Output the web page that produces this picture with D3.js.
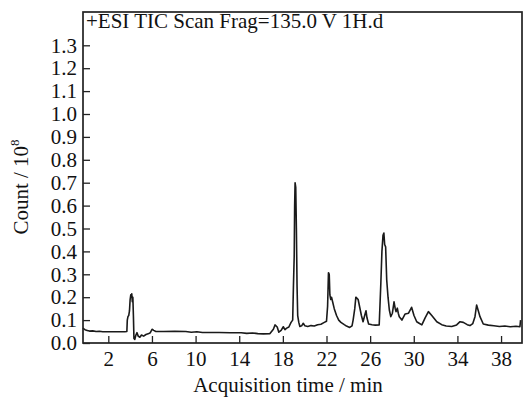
<!DOCTYPE html>
<html>
<head>
<meta charset="utf-8">
<script src="https://cdn.jsdelivr.net/npm/d3@7"></script>
<style>
  body { margin: 0; background: #fff; }
</style>
</head>
<body>
<script>
// retention time (min) and TIC count (x10^8)
const times = [
  -0.34, -0.14, 0.065, 0.27, 0.57, 0.88, 1.18, 1.49, 1.99, 2.50, 3.01, 3.52,
  3.70, 3.74, 3.80, 3.87, 3.94, 4.00, 4.06, 4.11, 4.15, 4.20, 4.25, 4.30, 4.35, 4.43,
  4.53, 4.63, 4.74, 4.89, 5.04, 5.24, 5.45, 5.65, 5.85, 6.01, 6.16, 6.36,
  7.07, 8.09, 9.10, 9.61, 10.12, 10.63, 11.14, 12.15, 13.17, 14.18, 14.69, 15.20, 15.70, 16.21, 16.82,
  17.13, 17.28, 17.48, 17.63, 17.84, 18.04, 18.19, 18.35, 18.55, 18.75, 18.90,
  18.97, 19.04, 19.08, 19.12, 19.18, 19.24, 19.30, 19.36, 19.46, 19.56, 19.72, 19.87, 20.02,
  20.28, 20.58, 20.88, 21.19, 21.49, 21.80, 22.00, 22.10, 22.18, 22.25, 22.31, 22.39, 22.46, 22.56,
  22.71, 22.92, 23.12, 23.32, 23.63, 23.83, 24.13, 24.34, 24.44, 24.59, 24.69, 24.80, 24.90,
  25.05, 25.20, 25.35, 25.50, 25.62, 25.71, 25.86, 26.17, 26.47, 26.83,
  26.98, 27.08, 27.18, 27.26, 27.33, 27.42, 27.52, 27.64, 27.76, 27.89, 28.04, 28.19,
  28.30, 28.37, 28.49, 28.58, 28.67, 28.91, 29.21, 29.52, 29.80, 30.02, 30.27,
  30.53, 30.74, 31.04, 31.34, 31.65, 32.11, 32.56, 32.97, 33.48, 33.93, 34.24, 34.54,
  34.90, 35.15, 35.41, 35.61, 35.76, 35.92, 36.07, 36.37, 36.83, 37.34, 37.85, 38.35,
  38.86, 39.37, 39.73, 39.79
];
const counts = [
  0.065, 0.058, 0.055, 0.052, 0.053, 0.05, 0.051, 0.049, 0.049, 0.049, 0.049, 0.049,
  0.05, 0.10, 0.115, 0.12, 0.14, 0.19, 0.21, 0.20, 0.215, 0.18, 0.20, 0.12, 0.02, 0.016,
  0.035, 0.045, 0.03, 0.025, 0.035, 0.03, 0.037, 0.04, 0.045, 0.06, 0.055, 0.05,
  0.05, 0.051, 0.05, 0.047, 0.049, 0.046, 0.046, 0.046, 0.045, 0.045, 0.042, 0.044, 0.041, 0.04, 0.041,
  0.06, 0.079, 0.07, 0.047, 0.055, 0.071, 0.058, 0.065, 0.07, 0.09, 0.10,
  0.25, 0.38, 0.6, 0.70, 0.68, 0.5, 0.25, 0.12, 0.09, 0.072, 0.075, 0.086, 0.075,
  0.072, 0.076, 0.074, 0.08, 0.082, 0.09, 0.095, 0.16, 0.307, 0.30, 0.21, 0.19, 0.20, 0.18,
  0.15, 0.12, 0.10, 0.09, 0.08, 0.074, 0.068, 0.075, 0.10, 0.15, 0.20, 0.195, 0.19,
  0.155, 0.12, 0.093, 0.12, 0.141, 0.11, 0.083, 0.08, 0.078, 0.079,
  0.26, 0.40, 0.47, 0.48, 0.43, 0.42, 0.275, 0.2, 0.144, 0.115, 0.13, 0.18,
  0.15, 0.137, 0.152, 0.13, 0.115, 0.10, 0.127, 0.13, 0.156, 0.12, 0.093,
  0.085, 0.079, 0.11, 0.137, 0.12, 0.093, 0.08, 0.074, 0.072, 0.079, 0.093, 0.09,
  0.08, 0.076, 0.085, 0.115, 0.166, 0.14, 0.115, 0.083, 0.078, 0.075, 0.072, 0.074,
  0.071, 0.073, 0.071, 0.10
];
const xTicks = [2, 6, 10, 14, 18, 22, 26, 30, 34, 38];
const yTicks = [0, 0.1, 0.2, 0.3, 0.4, 0.5, 0.6, 0.7, 0.8, 0.9, 1.0, 1.1, 1.2, 1.3];
const title = "+ESI TIC Scan Frag=135.0 V 1H.d";

const serif = "'Liberation Serif', Tinos, 'Times New Roman', Times, serif";

const width = 523, height = 400;
const margin = { top: 12, right: 1, bottom: 57, left: 83 };

const svg = d3.select("body").append("svg")
    .attr("width", width)
    .attr("height", height);

const x = d3.scaleLinear()
    .domain([-0.32, 39.92])
    .range([margin.left, width - margin.right]);

const y = d3.scaleLinear()
    .domain([0, 1.3])
    .range([height - margin.bottom, height - margin.bottom - 1.3 * 229]);

const data = times.map((t, i) => ({ t: t, v: counts[i] }));

// the trace
svg.append("path")
    .datum(data)
    .attr("fill", "none")
    .attr("stroke", "#1a1a1a")
    .attr("stroke-width", 1.6)
    .attr("stroke-linejoin", "round")
    .attr("d", d3.line().x(d => x(d.t)).y(d => y(d.v)));

// frame
svg.append("rect")
    .attr("x", margin.left)
    .attr("y", margin.top)
    .attr("width", width - margin.right - margin.left)
    .attr("height", height - margin.bottom - margin.top)
    .attr("fill", "none")
    .attr("stroke", "#222")
    .attr("stroke-width", 1.7);

// axes, ticks pointing inward
const xAxis = svg.append("g")
    .attr("transform", "translate(0," + (height - margin.bottom) + ")")
    .call(d3.axisBottom(x).tickValues(xTicks).tickSizeInner(-7).tickSizeOuter(0).tickPadding(8));

const yAxis = svg.append("g")
    .attr("transform", "translate(" + margin.left + ",0)")
    .call(d3.axisLeft(y).tickValues(yTicks).tickFormat(d3.format(".1f"))
      .tickSizeInner(-7).tickSizeOuter(0).tickPadding(6));

[xAxis, yAxis].forEach(g => {
  g.attr("font-family", null).attr("font-size", null);
  g.select(".domain").remove();
  g.selectAll(".tick line").attr("stroke", "#222").attr("stroke-width", 1.3);
  g.selectAll(".tick text")
    .style("font-family", serif)
    .style("font-size", "21px")
    .attr("fill", "#111");
});

svg.append("text")
    .attr("x", 86)
    .attr("y", 28)
    .style("font-family", serif)
    .style("font-size", "21px")
    .attr("fill", "#111")
    .text(title);

svg.append("text")
    .attr("x", 288)
    .attr("y", 392)
    .attr("text-anchor", "middle")
    .style("font-family", serif)
    .style("font-size", "21px")
    .attr("fill", "#111")
    .text("Acquisition time / min");

const yl = svg.append("text")
    .attr("transform", "translate(28,187) rotate(-90)")
    .attr("text-anchor", "middle")
    .style("font-family", serif)
    .style("font-size", "21px")
    .attr("fill", "#111");
yl.append("tspan").text("Count / 10");
yl.append("tspan").attr("dy", -9).style("font-size", "13px").text("8");
</script>
</body>
</html>
